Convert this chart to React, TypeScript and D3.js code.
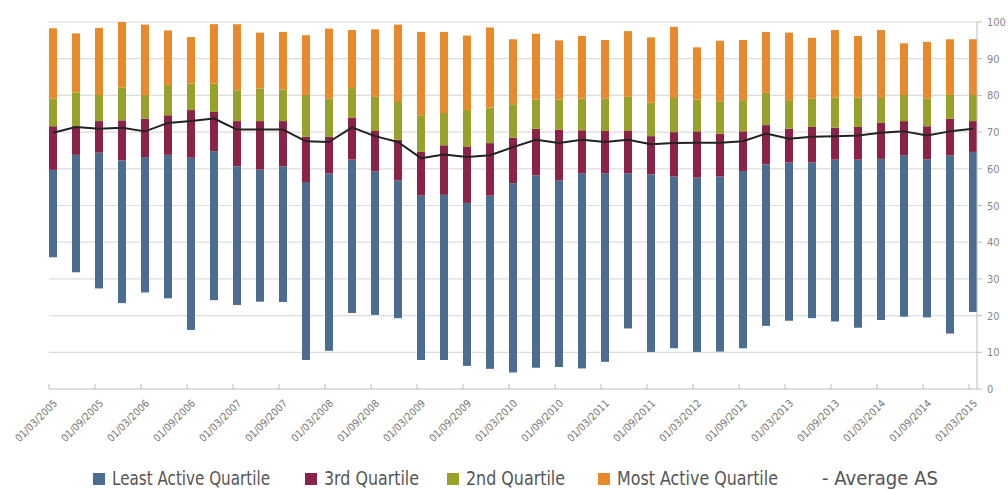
import * as d3 from "d3";

// quarterly observation dates
const dates = [
  "01/03/2005", "01/06/2005", "01/09/2005", "01/12/2005",
  "01/03/2006", "01/06/2006", "01/09/2006", "01/12/2006",
  "01/03/2007", "01/06/2007", "01/09/2007", "01/12/2007",
  "01/03/2008", "01/06/2008", "01/09/2008", "01/12/2008",
  "01/03/2009", "01/06/2009", "01/09/2009", "01/12/2009",
  "01/03/2010", "01/06/2010", "01/09/2010", "01/12/2010",
  "01/03/2011", "01/06/2011", "01/09/2011", "01/12/2011",
  "01/03/2012", "01/06/2012", "01/09/2012", "01/12/2012",
  "01/03/2013", "01/06/2013", "01/09/2013", "01/12/2013",
  "01/03/2014", "01/06/2014", "01/09/2014", "01/12/2014",
  "01/03/2015",
];

// bottom of the least active quartile
const minValues = [
  35.9, 31.8, 27.4, 23.4, 26.3, 24.7, 16.1, 24.2, 22.9, 23.8,
  23.7, 7.9, 10.4, 20.7, 20.2, 19.3, 7.9, 7.9, 6.3, 5.5,
  4.5, 5.8, 6.0, 5.6, 7.4, 16.5, 10.1, 11.1, 10.1, 10.2,
  11.1, 17.2, 18.6, 19.3, 18.4, 16.7, 18.8, 19.7, 19.5, 15.1, 21.0,
];
// least active / 3rd quartile boundary
const q1Values = [
  59.7, 63.8, 64.4, 62.3, 63.2, 63.8, 63.0, 64.8, 60.7, 59.8,
  60.7, 56.4, 58.7, 62.5, 59.3, 56.8, 52.7, 52.9, 50.7, 52.7,
  56.1, 58.2, 56.8, 58.8, 58.8, 58.8, 58.5, 57.9, 57.6, 57.9,
  59.4, 61.2, 61.7, 61.7, 62.5, 62.5, 62.7, 63.7, 62.6, 63.7, 64.6,
];
// 3rd / 2nd quartile boundary
const q2Values = [
  71.6, 71.6, 73.0, 73.2, 73.7, 74.6, 76.0, 75.5, 73.0, 73.0,
  73.0, 68.7, 68.7, 74.0, 70.3, 67.9, 64.6, 66.4, 66.1, 67.0,
  68.5, 70.9, 70.7, 70.5, 70.3, 70.3, 68.9, 70.0, 70.2, 69.6,
  70.2, 71.9, 70.9, 71.4, 71.2, 71.4, 72.5, 73.0, 71.6, 73.6, 73.0,
];
// 2nd / most active quartile boundary
const q3Values = [
  79.2, 80.8, 80.1, 82.2, 80.1, 82.8, 83.2, 83.2, 81.4, 81.9,
  81.6, 80.1, 79.2, 82.0, 79.6, 78.2, 74.6, 75.2, 76.0, 76.7,
  77.6, 78.9, 78.9, 79.1, 79.1, 79.6, 78.0, 79.3, 78.9, 78.4,
  78.7, 80.7, 78.7, 79.1, 79.4, 79.4, 79.3, 80.1, 79.1, 80.1, 80.1,
];
// top of the most active quartile
const maxValues = [
  98.3, 96.9, 98.4, 100, 99.3, 97.7, 95.9, 99.4, 99.4, 97.1,
  97.3, 96.4, 98.2, 97.8, 98.0, 99.3, 97.3, 97.3, 96.3, 98.5,
  95.3, 96.8, 95.0, 96.2, 95.1, 97.5, 95.8, 98.7, 93.1, 94.9,
  95.1, 97.3, 97.1, 95.7, 97.8, 96.2, 97.8, 94.2, 94.6, 95.3, 95.3,
];
const avgValues = [
  69.8, 71.4, 70.9, 71.2, 70.2, 72.5, 73.0, 73.7, 70.7, 70.7,
  70.7, 67.5, 67.3, 71.3, 68.9, 67.3, 62.9, 63.9, 63.2, 63.7,
  65.9, 67.9, 67.0, 67.9, 67.3, 67.9, 66.7, 67.0, 67.1, 67.1,
  67.5, 69.6, 68.2, 68.7, 68.9, 69.1, 69.8, 70.2, 69.1, 70.2, 70.9,
];

const seriesNames = [
  "Least Active Quartile",
  "3rd Quartile",
  "2nd Quartile",
  "Most Active Quartile",
];
const seriesColors = ["#4b6d8f", "#8b2349", "#99a12a", "#e8892c"];
const yTicks = [0, 10, 20, 30, 40, 50, 60, 70, 80, 90, 100];

const W = 1008;
const H = 490;
const FONT =
  "'Liberation Sans Narrow', 'DejaVu Sans Condensed', 'Roboto Condensed', 'Liberation Sans', sans-serif";

export default function App() {
  const plotLeft = 49;
  const plotRight = 977;
  const x = d3.scalePoint<string>().domain(dates).range([53, 973]);
  const y = d3.scaleLinear().domain([0, 100]).range([389, 22]);
  const barW = 8;

  const bounds = dates.map((d, i) => [
    minValues[i],
    q1Values[i],
    q2Values[i],
    q3Values[i],
    maxValues[i],
  ]);

  const line = d3
    .line<number>()
    .x((_, i) => x(dates[i])!)
    .y((v) => y(v));

  // legend positions + target text widths (condensed face in the original)
  const legendItems = [
    { x: 93, w: 158, text: seriesNames[0], color: seriesColors[0] },
    { x: 305, w: 95, text: seriesNames[1], color: seriesColors[1] },
    { x: 447, w: 99, text: seriesNames[2], color: seriesColors[2] },
    { x: 598, w: 161, text: seriesNames[3], color: seriesColors[3] },
  ];

  return (
    <svg
      width={W}
      height={H}
      style={{ position: "absolute", left: 0, top: 0, background: "#fff" }}
      fontFamily={FONT}
    >
      {/* grid */}
      {yTicks
        .filter((t) => t > 0)
        .map((t) => (
          <line
            key={"g" + t}
            x1={plotLeft}
            x2={plotRight}
            y1={y(t)}
            y2={y(t)}
            stroke="#dcdcdc"
            strokeWidth={1.2}
          />
        ))}

      {/* floating stacked bars */}
      {bounds.map((b, i) =>
        seriesColors.map((c, k) => (
          <rect
            key={`b${i}-${k}`}
            x={x(dates[i])! - barW / 2}
            width={barW}
            y={y(b[k + 1])}
            height={y(b[k]) - y(b[k + 1])}
            fill={c}
          />
        ))
      )}

      {/* average line */}
      <path
        d={line(avgValues)!}
        fill="none"
        stroke="#222"
        strokeWidth={2}
        strokeLinejoin="round"
      />

      {/* x axis */}
      <line
        x1={plotLeft}
        x2={plotRight}
        y1={389}
        y2={389}
        stroke="#bdbdbd"
      />
      {dates.map((d, i) =>
        i % 2 === 0 ? (
          <g key={"t" + d}>
            <line
              x1={x(d)! - 4}
              x2={x(d)! - 4}
              y1={384}
              y2={389}
              stroke="#bdbdbd"
            />
            <text
              transform={`translate(${x(d)! + 5},404) rotate(-45)`}
              textAnchor="end"
              fontSize={10.5}
              fill="#777"
            >
              {d}
            </text>
          </g>
        ) : null
      )}

      {/* right y axis */}
      <line
        x1={plotRight}
        x2={plotRight}
        y1={y(100)}
        y2={389}
        stroke="#bdbdbd"
      />
      {yTicks.map((t) => (
        <g key={"y" + t}>
          <line
            x1={plotRight}
            x2={plotRight + 5}
            y1={y(t)}
            y2={y(t)}
            stroke="#bdbdbd"
          />
          <text
            x={987}
            y={y(t) + 4}
            fontSize={11}
            fill="#888"
          >
            {t}
          </text>
        </g>
      ))}

      {/* legend */}
      {legendItems.map((it) => (
        <g key={it.text}>
          <rect x={it.x} y={473} width={12} height={12} fill={it.color} />
          <text
            x={it.x + 19}
            y={485}
            fontSize={19}
            fill="#555"
            textLength={it.w}
            lengthAdjust="spacingAndGlyphs"
          >
            {it.text}
          </text>
        </g>
      ))}
      <text
        x={822}
        y={485}
        fontSize={19}
        fill="#555"
        textLength={116}
        lengthAdjust="spacingAndGlyphs"
      >
        - Average AS
      </text>
    </svg>
  );
}
